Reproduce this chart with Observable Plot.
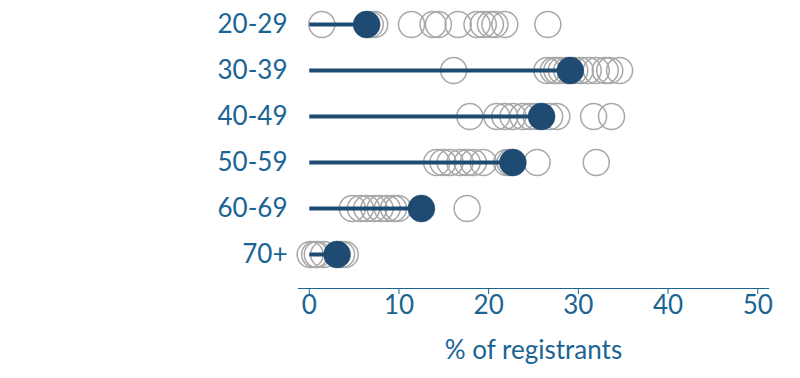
<!DOCTYPE html>
<html>
<head>
<meta charset="utf-8">
<script src="https://cdn.jsdelivr.net/npm/d3@7"></script>
<script src="https://cdn.jsdelivr.net/npm/@observablehq/plot@0.6"></script>
<style>
  html, body { margin: 0; padding: 0; background: #fff; }
  #chart svg { display: block; }
</style>
</head>
<body>
<div id="chart"></div>
<script>
const ageGroups = ["20-29", "30-39", "40-49", "50-59", "60-69", "70+"];

// Other points (grey rings) per age group, % of registrants
const others2029 = [1.4, 6.8, 7.3, 11.4, 13.8, 14.4, 16.6, 18.7, 19.4, 20.2, 20.7, 21.8, 26.6];
const others3039 = [16.1, 26.5, 27.2, 27.6, 28.1, 28.7, 29.6, 30.2, 31.1, 32.0, 33.0, 33.5, 34.6];
const others4049 = [17.9, 20.9, 21.8, 22.7, 23.8, 24.6, 25.3, 26.8, 27.6, 31.7, 33.7];
const others5059 = [14.2, 14.9, 15.7, 16.8, 17.6, 18.3, 19.4, 22.0, 22.4, 25.4, 32.0];
const others6069 = [4.8, 5.7, 6.4, 7.2, 7.9, 8.7, 9.4, 9.9, 17.6];
const others70 = [0.1, 0.6, 0.9, 1.6, 3.6, 4.0];

// Highlighted value per age group
const highlight = [6.4, 29.1, 25.9, 22.7, 12.5, 3.1];

const xTicks = [0, 10, 20, 30, 40, 50];

const otherLists = [others2029, others3039, others4049, others5059, others6069, others70];
const others = otherLists.flatMap((vals, i) => vals.map(v => ({age: ageGroups[i], value: v})));
const focus = ageGroups.map((age, i) => ({age, value: highlight[i]}));

const textColor = "#1a6494";
const dark = "#1f4a72";

const chart = Plot.plot({
  width: 800,
  height: 378,
  marginLeft: 298,
  marginRight: 32,
  marginTop: 0,
  marginBottom: 90,
  style: {fontFamily: "Lato, 'Open Sans', sans-serif", fontSize: "26px", color: textColor, background: "#fff"},
  x: {domain: [-1.2, 51.2], ticks: xTicks},
  y: {type: "point", domain: ageGroups, range: [24, 254], padding: 0},
  marks: [
    Plot.frame({anchor: "bottom", stroke: textColor, strokeWidth: 1.2}),
    Plot.axisX({ticks: xTicks, tickSize: 6, tickPadding: 1, label: "% of registrants", labelAnchor: "center", labelArrow: "none", labelOffset: 70, fontSize: 26}),
    Plot.axisY({tickSize: 0, tickPadding: 11, label: null, fontSize: 26}),
    Plot.dot(others, {x: "value", y: "age", r: 13, stroke: "#a8a8a8", strokeWidth: 1.5, fill: "none"}),
    Plot.link(focus, {x1: 0, x2: "value", y1: "age", y2: "age", stroke: dark, strokeWidth: 4}),
    Plot.dot(focus, {x: "value", y: "age", r: 13.5, fill: dark, stroke: dark, strokeWidth: 0.5})
  ]
});

document.getElementById("chart").appendChild(chart);
</script>
</body>
</html>
